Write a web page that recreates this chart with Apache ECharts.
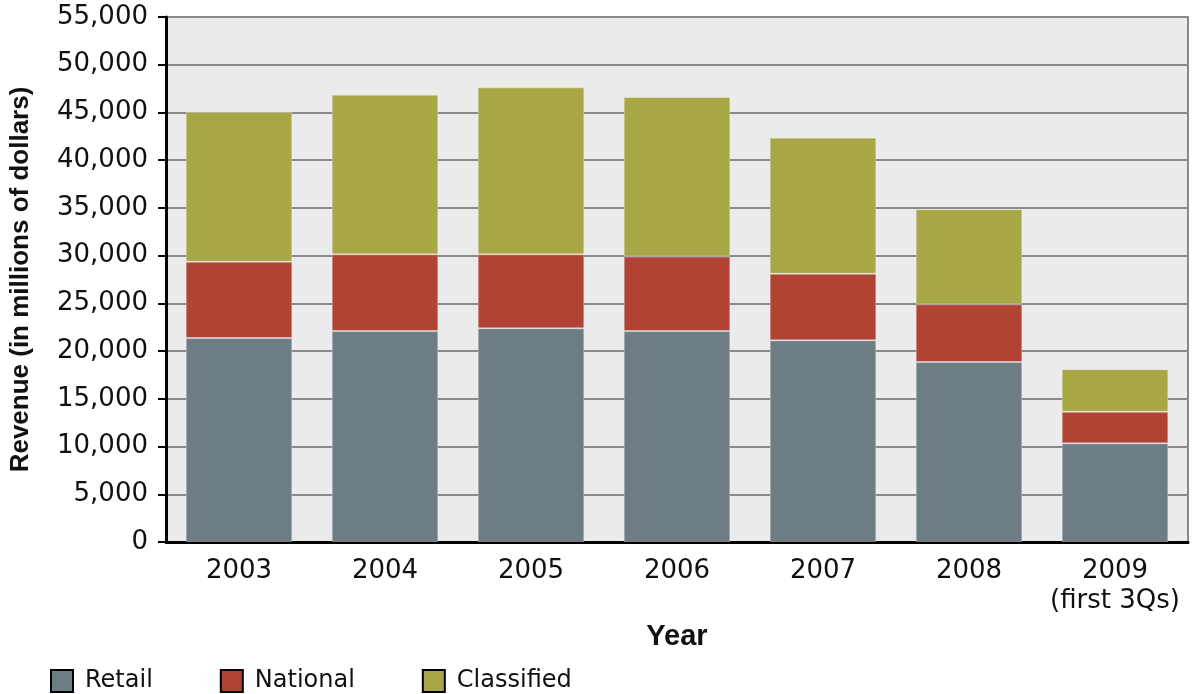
<!DOCTYPE html>
<html>
<head>
<meta charset="utf-8">
<script src="https://cdn.jsdelivr.net/npm/echarts@6/dist/echarts.min.js"></script>
<style>
html,body{margin:0;padding:0;background:#fff;}
#chart{width:1203px;height:694px;}
</style>
</head>
<body>
<div id="chart"></div>
<script>
const categories = ['2003', '2004', '2005', '2006', '2007', '2008', '2009\n(first 3Qs)'];
// Stacked segment values (millions of dollars)
const retail     = [21370, 22100, 22390, 22100, 21130, 18860, 10340];
const national   = [7990, 8040, 7750, 7800, 6970, 6040, 3300];
const classified = [15690, 16720, 17490, 16730, 14260, 9950, 4470];
const yTicks = { min: 0, max: 55000, interval: 5000 };
const seriesNames = ['Retail', 'National', 'Classified'];
const colors = ['#6e7d83', '#b14335', '#a7a746'];

const chart = echarts.init(document.getElementById('chart'), null, { renderer: 'canvas' });
const fontAxis = 'DejaVu Sans';
const mk = (name, data, color) => ({
  name, type: 'bar', stack: 'total', data,
  barCategoryGap: '27%',
  itemStyle: { color, borderColor: 'rgba(255,255,255,0.3)', borderWidth: 1 },
  emphasis: { disabled: true }
});
chart.setOption({
  animation: false,
  backgroundColor: '#ffffff',
  grid: { left: 165, right: 15, top: 17, bottom: 152, show: true, backgroundColor: '#ebebeb', borderColor: '#8a8a8a', borderWidth: 2 },
  legend: {
    left: 45, top: 664,
    itemWidth: 22, itemHeight: 22, itemGap: 67,
    icon: 'rect',
    itemStyle: { borderColor: '#000', borderWidth: 2 },
    textStyle: { fontFamily: fontAxis, fontSize: 24, color: '#111', padding: [0, 0, 0, 7] },
    data: seriesNames
  },
  xAxis: {
    type: 'category', data: categories,
    name: 'Year', nameLocation: 'middle', nameGap: 80,
    nameTextStyle: { fontFamily: 'Liberation Sans', fontWeight: 'bold', fontSize: 29, color: '#111' },
    axisLine: { lineStyle: { color: '#000', width: 3 } },
    axisTick: { alignWithLabel: true, length: 8, lineStyle: { color: '#000', width: 2 } },
    axisLabel: { interval: 0, fontFamily: fontAxis, fontSize: 26, color: '#111', margin: 14, lineHeight: 30 }
  },
  yAxis: {
    type: 'value', min: yTicks.min, max: yTicks.max, interval: yTicks.interval,
    name: 'Revenue (in millions of dollars)', nameLocation: 'middle', nameGap: 132, nameRotate: 90,
    nameTextStyle: { fontFamily: 'Liberation Sans', fontWeight: 'bold', fontSize: 26, color: '#111' },
    axisLine: { show: true, lineStyle: { color: '#000', width: 3 } },
    axisTick: { show: true, length: 8, lineStyle: { color: '#000', width: 2 } },
    axisLabel: { fontFamily: fontAxis, fontSize: 26, color: '#111', margin: 18,
      formatter: v => v.toLocaleString('en-US') },
    splitLine: { show: true, lineStyle: { color: '#8a8a8a', width: 2 } }
  },
  series: [
    mk(seriesNames[0], retail, colors[0]),
    mk(seriesNames[1], national, colors[1]),
    mk(seriesNames[2], classified, colors[2])
  ]
});
</script>
</body>
</html>
